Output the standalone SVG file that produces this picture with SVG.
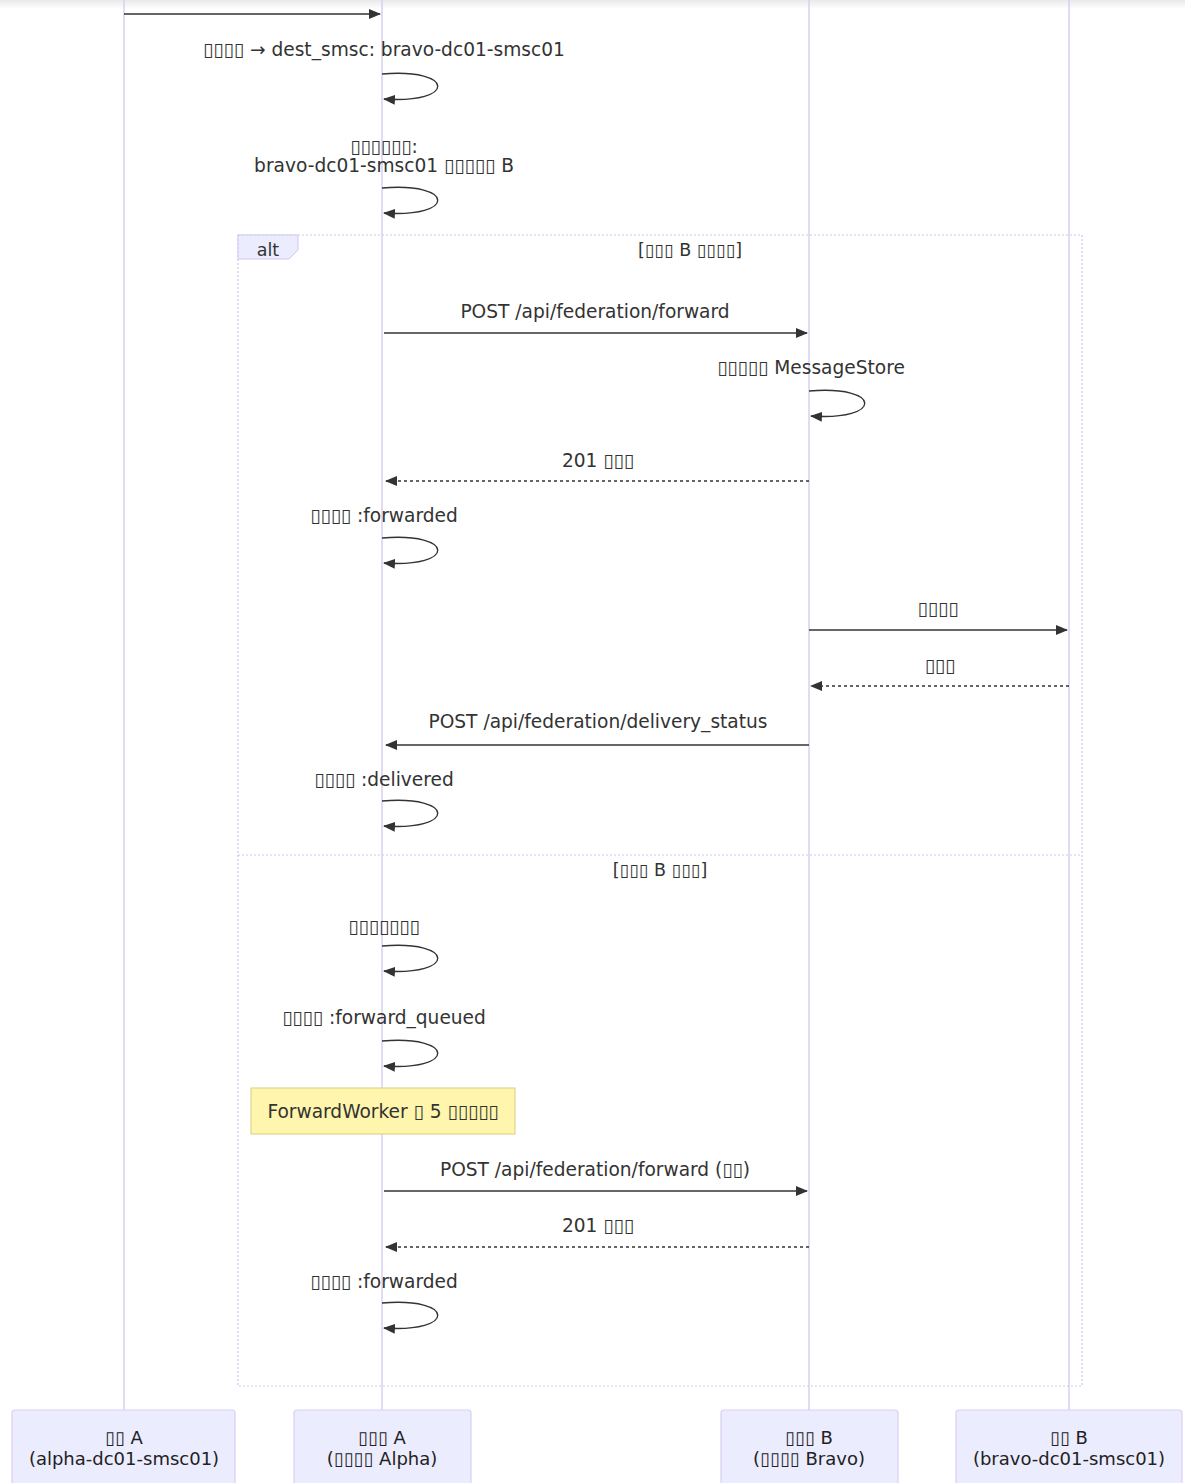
<svg xmlns="http://www.w3.org/2000/svg" width="1185" height="1483" viewBox="0 0 1185 1483">
<defs>
<linearGradient id="topShade" x1="0" y1="0" x2="0" y2="1">
<stop offset="0" stop-color="#e9e9e9"/>
<stop offset="1" stop-color="#ffffff"/>
</linearGradient>
<marker id="arrow" viewBox="0 0 12 12" refX="11" refY="6" markerWidth="12" markerHeight="12" markerUnits="userSpaceOnUse" orient="auto">
<path d="M0,1 L12,6 L0,11 z" fill="#333"/>
</marker>
</defs>
<style>
.life{stroke:#d9cff3;stroke-width:1.5;fill:none}
.msg{stroke:#333;stroke-width:1.6;fill:none;marker-end:url(#arrow)}
.dot{stroke-dasharray:3,3}
.loop{stroke:#333;stroke-width:1.4;fill:none;marker-end:url(#arrow)}
.t{font-family:"DejaVu Sans",sans-serif;font-size:18.6px;fill:#333;text-anchor:middle}
.c{font-size:17.5px}
.actor{fill:#ececff;stroke:#d9cff3;stroke-width:1.2}
.at{font-family:"DejaVu Sans",sans-serif;font-size:18px;fill:#222;text-anchor:middle}
.frame{fill:none;stroke:#cfc6ee;stroke-width:1.2;stroke-dasharray:2,2}
.lbl{fill:#ececff;stroke:#cfc6ee;stroke-width:1}
.note{fill:#fff5ad;stroke:#d8cf7a;stroke-width:1}
</style>
<rect x="0" y="0" width="1185" height="1483" fill="#fff"/>
<rect x="0" y="0" width="1185" height="9" fill="url(#topShade)"/>
<g id="lifelines">
<line class="life" x1="124" y1="0" x2="124" y2="1410"/>
<line class="life" x1="382" y1="0" x2="382" y2="1410"/>
<line class="life" x1="809" y1="0" x2="809" y2="1410"/>
<line class="life" x1="1069" y1="0" x2="1069" y2="1410"/>
</g>
<g id="alt-frame">
<rect class="frame" x="238" y="235" width="844" height="1151"/>
<path class="lbl" d="M238,235 H298 V250 L289,259 H238 Z"/>
<text class="t c" x="268" y="256">alt</text>
<text class="t c" x="690" y="256">[▯▯▯ B ▯▯▯▯]</text>
<line class="frame" x1="238" y1="855" x2="1082" y2="855"/>
<text class="t c" x="660" y="876">[▯▯▯ B ▯▯▯]</text>
</g>
<g id="connectors">
<line class="msg" x1="124" y1="14" x2="380" y2="14"/>
<text class="t" x="384" y="56">▯▯▯▯ → dest_smsc: bravo-dc01-smsc01</text>
<path class="loop" d="M382,74 C456,68 456,104 384,99"/>
<text class="t" x="384" y="153">▯▯▯▯▯▯:</text>
<text class="t" x="384" y="172">bravo-dc01-smsc01 ▯▯▯▯▯ B</text>
<path class="loop" d="M382,188 C456,182 456,218 384,213"/>
<text class="t" x="595" y="318">POST /api/federation/forward</text>
<line class="msg" x1="384" y1="333" x2="807" y2="333"/>
<text class="t" x="811" y="374">▯▯▯▯▯ MessageStore</text>
<path class="loop" d="M809,391 C883,385 883,421 811,416"/>
<text class="t" x="598" y="467">201 ▯▯▯</text>
<line class="msg dot" x1="809" y1="481" x2="386" y2="481"/>
<text class="t" x="384" y="522">▯▯▯▯ :forwarded</text>
<path class="loop" d="M382,538 C456,532 456,568 384,563"/>
<text class="t" x="938" y="615">▯▯▯▯</text>
<line class="msg" x1="809" y1="630" x2="1067" y2="630"/>
<text class="t" x="940" y="672">▯▯▯</text>
<line class="msg dot" x1="1069" y1="686" x2="811" y2="686"/>
<text class="t" x="598" y="728">POST /api/federation/delivery_status</text>
<line class="msg" x1="809" y1="745" x2="386" y2="745"/>
<text class="t" x="384" y="786">▯▯▯▯ :delivered</text>
<path class="loop" d="M382,801 C456,795 456,831 384,826"/>
<text class="t" x="384" y="933">▯▯▯▯▯▯▯</text>
<path class="loop" d="M382,946 C456,940 456,976 384,971"/>
<text class="t" x="384" y="1024">▯▯▯▯ :forward_queued</text>
<path class="loop" d="M382,1041 C456,1035 456,1071 384,1066"/>
<text class="t" x="595" y="1176">POST /api/federation/forward (▯▯)</text>
<line class="msg" x1="384" y1="1191" x2="807" y2="1191"/>
<text class="t" x="598" y="1232">201 ▯▯▯</text>
<line class="msg dot" x1="809" y1="1247" x2="386" y2="1247"/>
<text class="t" x="384" y="1288">▯▯▯▯ :forwarded</text>
<path class="loop" d="M382,1303 C456,1297 456,1333 384,1328"/>
</g>
<g id="note">
<rect class="note" x="251" y="1088" width="264" height="46"/>
<text class="t" x="383" y="1118">ForwardWorker ▯ 5 ▯▯▯▯▯</text>
</g>
<g id="client-a">
<rect class="actor" x="12" y="1410" width="223" height="80" rx="3"/>
<text class="at" x="124" y="1444">▯▯ A</text>
<text class="at" x="124" y="1465">(alpha-dc01-smsc01)</text>
</g>
<g id="smsc-a">
<rect class="actor" x="294" y="1410" width="177" height="80" rx="3"/>
<text class="at" x="382" y="1444">▯▯▯ A</text>
<text class="at" x="382" y="1465">(▯▯▯▯ Alpha)</text>
</g>
<g id="smsc-b">
<rect class="actor" x="721" y="1410" width="177" height="80" rx="3"/>
<text class="at" x="809" y="1444">▯▯▯ B</text>
<text class="at" x="809" y="1465">(▯▯▯▯ Bravo)</text>
</g>
<g id="client-b">
<rect class="actor" x="956" y="1410" width="226" height="80" rx="3"/>
<text class="at" x="1069" y="1444">▯▯ B</text>
<text class="at" x="1069" y="1465">(bravo-dc01-smsc01)</text>
</g>
</svg>
